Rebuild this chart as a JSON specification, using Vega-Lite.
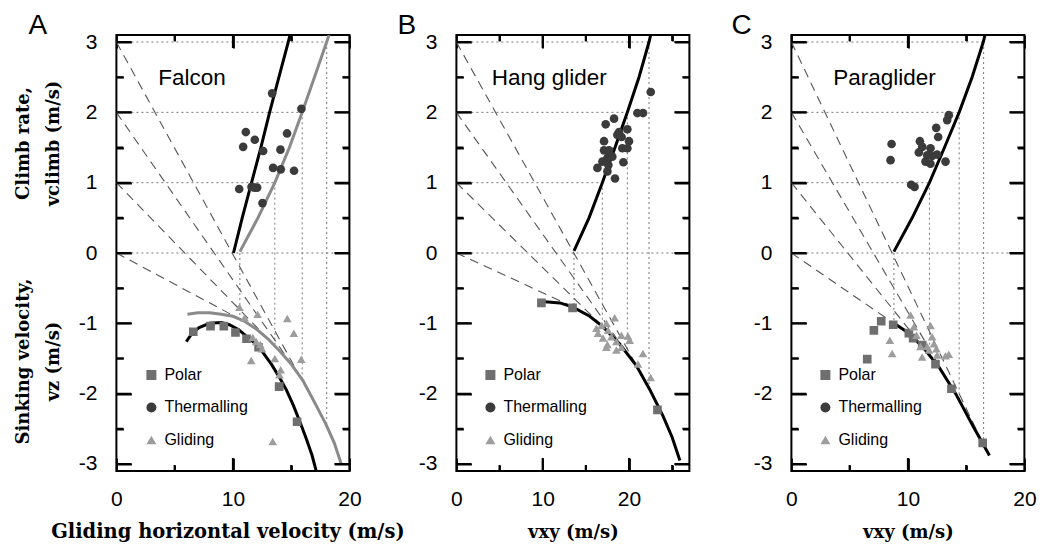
{
  "$schema": "https://vega.github.io/schema/vega-lite/v6.json",
  "padding": {"left": 13.4, "top": 11, "right": 5, "bottom": 5},
  "background": "white",
  "config": {
    "view": {"stroke": "black", "strokeWidth": 2},
    "axis": {"domain": false, "grid": false, "ticks": true, "tickOpacity": 1, "zindex": 1, "tickColor": "black", "tickWidth": 2, "labelFont": "Liberation Sans", "labelFontSize": 21, "labelColor": "black", "labelFlush": false, "labelBound": false, "titleFont": "DejaVu Serif", "titleFontWeight": "bold", "titleFontSize": 18, "titleColor": "black"},
    "title": {"anchor": "start", "frame": "group", "font": "Liberation Sans", "fontSize": 28, "fontWeight": "normal", "color": "black", "offset": 2, "dy": 11, "baseline": "alphabetic"}
  },
  "datasets": {
    "tyAC": [
      {"x": 0, "y": -3, "kind": "ymajor"}, {"x": 0, "y": -2.5, "kind": "yminor"}, {"x": 0, "y": -2, "kind": "ymajor"}, {"x": 0, "y": -1.5, "kind": "yminor"}, {"x": 0, "y": -1, "kind": "ymajor"}, {"x": 0, "y": -0.5, "kind": "yminor"}, {"x": 0, "y": 0, "kind": "ymajor"}, {"x": 0, "y": 0.5, "kind": "yminor"}, {"x": 0, "y": 1, "kind": "ymajor"}, {"x": 0, "y": 1.5, "kind": "yminor"}, {"x": 0, "y": 2, "kind": "ymajor"}, {"x": 0, "y": 2.5, "kind": "yminor"}, {"x": 0, "y": 3, "kind": "ymajor"},
      {"x": 20, "y": -3, "kind": "ymajor"}, {"x": 20, "y": -2.5, "kind": "yminor"}, {"x": 20, "y": -2, "kind": "ymajor"}, {"x": 20, "y": -1.5, "kind": "yminor"}, {"x": 20, "y": -1, "kind": "ymajor"}, {"x": 20, "y": -0.5, "kind": "yminor"}, {"x": 20, "y": 0, "kind": "ymajor"}, {"x": 20, "y": 0.5, "kind": "yminor"}, {"x": 20, "y": 1, "kind": "ymajor"}, {"x": 20, "y": 1.5, "kind": "yminor"}, {"x": 20, "y": 2, "kind": "ymajor"}, {"x": 20, "y": 2.5, "kind": "yminor"}, {"x": 20, "y": 3, "kind": "ymajor"}
    ],
    "tyB": [
      {"x": 0, "y": -3, "kind": "ymajor"}, {"x": 0, "y": -2.5, "kind": "yminor"}, {"x": 0, "y": -2, "kind": "ymajor"}, {"x": 0, "y": -1.5, "kind": "yminor"}, {"x": 0, "y": -1, "kind": "ymajor"}, {"x": 0, "y": -0.5, "kind": "yminor"}, {"x": 0, "y": 0, "kind": "ymajor"}, {"x": 0, "y": 0.5, "kind": "yminor"}, {"x": 0, "y": 1, "kind": "ymajor"}, {"x": 0, "y": 1.5, "kind": "yminor"}, {"x": 0, "y": 2, "kind": "ymajor"}, {"x": 0, "y": 2.5, "kind": "yminor"}, {"x": 0, "y": 3, "kind": "ymajor"},
      {"x": 27, "y": -3, "kind": "ymajor"}, {"x": 27, "y": -2.5, "kind": "yminor"}, {"x": 27, "y": -2, "kind": "ymajor"}, {"x": 27, "y": -1.5, "kind": "yminor"}, {"x": 27, "y": -1, "kind": "ymajor"}, {"x": 27, "y": -0.5, "kind": "yminor"}, {"x": 27, "y": 0, "kind": "ymajor"}, {"x": 27, "y": 0.5, "kind": "yminor"}, {"x": 27, "y": 1, "kind": "ymajor"}, {"x": 27, "y": 1.5, "kind": "yminor"}, {"x": 27, "y": 2, "kind": "ymajor"}, {"x": 27, "y": 2.5, "kind": "yminor"}, {"x": 27, "y": 3, "kind": "ymajor"}
    ],
    "txAC": [
      {"x": 5, "y": -3.1, "kind": "xminor"}, {"x": 10, "y": -3.1, "kind": "xmajor"}, {"x": 15, "y": -3.1, "kind": "xminor"},
      {"x": 5, "y": 3.1, "kind": "xminor"}, {"x": 10, "y": 3.1, "kind": "xmajor"}, {"x": 15, "y": 3.1, "kind": "xminor"}
    ],
    "txB": [
      {"x": 5, "y": -3.1, "kind": "xminor"}, {"x": 10, "y": -3.1, "kind": "xmajor"}, {"x": 15, "y": -3.1, "kind": "xminor"}, {"x": 20, "y": -3.1, "kind": "xmajor"}, {"x": 25, "y": -3.1, "kind": "xminor"},
      {"x": 5, "y": 3.1, "kind": "xminor"}, {"x": 10, "y": 3.1, "kind": "xmajor"}, {"x": 15, "y": 3.1, "kind": "xminor"}, {"x": 20, "y": 3.1, "kind": "xmajor"}, {"x": 25, "y": 3.1, "kind": "xminor"}
    ],
    "hA": [{"x0": 0, "x1": 20, "y": 0}, {"x0": 0, "x1": 13.6, "y": 1}, {"x0": 0, "x1": 15.95, "y": 2}, {"x0": 0, "x1": 18.05, "y": 3}],
    "vA": [{"x": 10.6, "y0": 0, "y1": -0.94}, {"x": 13.6, "y0": 1, "y1": -1.32}, {"x": 15.95, "y0": 2, "y1": -1.8}, {"x": 18.05, "y0": 3, "y1": -2.45}],
    "tA": [{"c": 0, "x": 0, "y": 0}, {"c": 0, "x": 10.6, "y": -0.94}, {"c": 1, "x": 0, "y": 1}, {"c": 1, "x": 13.6, "y": -1.32}, {"c": 2, "x": 0, "y": 2}, {"c": 2, "x": 15.95, "y": -1.8}, {"c": 3, "x": 0, "y": 3}, {"c": 3, "x": 18.05, "y": -2.45}],
    "cA": [
      {"curve": "climb_main", "model": "main", "x": 10.05, "y": 0}, {"curve": "climb_main", "model": "main", "x": 10.8, "y": 0.5}, {"curve": "climb_main", "model": "main", "x": 11.6, "y": 1}, {"curve": "climb_main", "model": "main", "x": 12.4, "y": 1.5}, {"curve": "climb_main", "model": "main", "x": 13.15, "y": 2}, {"curve": "climb_main", "model": "main", "x": 13.95, "y": 2.5}, {"curve": "climb_main", "model": "main", "x": 14.75, "y": 3}, {"curve": "climb_main", "model": "main", "x": 14.9, "y": 3.1},
      {"curve": "polar_main", "model": "main", "x": 6.0, "y": -1.26}, {"curve": "polar_main", "model": "main", "x": 6.5, "y": -1.14}, {"curve": "polar_main", "model": "main", "x": 7.1, "y": -1.06}, {"curve": "polar_main", "model": "main", "x": 8.0, "y": -1.0}, {"curve": "polar_main", "model": "main", "x": 9.0, "y": -0.99}, {"curve": "polar_main", "model": "main", "x": 9.7, "y": -1.02}, {"curve": "polar_main", "model": "main", "x": 10.5, "y": -1.09}, {"curve": "polar_main", "model": "main", "x": 11.2, "y": -1.19}, {"curve": "polar_main", "model": "main", "x": 12.0, "y": -1.3}, {"curve": "polar_main", "model": "main", "x": 12.6, "y": -1.42}, {"curve": "polar_main", "model": "main", "x": 13.3, "y": -1.58}, {"curve": "polar_main", "model": "main", "x": 14.0, "y": -1.77}, {"curve": "polar_main", "model": "main", "x": 14.6, "y": -1.95}, {"curve": "polar_main", "model": "main", "x": 15.2, "y": -2.17}, {"curve": "polar_main", "model": "main", "x": 15.8, "y": -2.42}, {"curve": "polar_main", "model": "main", "x": 16.3, "y": -2.64}, {"curve": "polar_main", "model": "main", "x": 16.8, "y": -2.88}, {"curve": "polar_main", "model": "main", "x": 17.15, "y": -3.1},
      {"curve": "climb_alt", "model": "alt", "x": 10.6, "y": 0.02}, {"curve": "climb_alt", "model": "alt", "x": 12.15, "y": 0.5}, {"curve": "climb_alt", "model": "alt", "x": 13.6, "y": 1.0}, {"curve": "climb_alt", "model": "alt", "x": 14.85, "y": 1.5}, {"curve": "climb_alt", "model": "alt", "x": 15.95, "y": 2.0}, {"curve": "climb_alt", "model": "alt", "x": 17.0, "y": 2.5}, {"curve": "climb_alt", "model": "alt", "x": 18.05, "y": 3.0}, {"curve": "climb_alt", "model": "alt", "x": 18.25, "y": 3.1},
      {"curve": "polar_alt", "model": "alt", "x": 6.1, "y": -0.87}, {"curve": "polar_alt", "model": "alt", "x": 7, "y": -0.85}, {"curve": "polar_alt", "model": "alt", "x": 8, "y": -0.85}, {"curve": "polar_alt", "model": "alt", "x": 9, "y": -0.87}, {"curve": "polar_alt", "model": "alt", "x": 10, "y": -0.9}, {"curve": "polar_alt", "model": "alt", "x": 11, "y": -0.97}, {"curve": "polar_alt", "model": "alt", "x": 12, "y": -1.08}, {"curve": "polar_alt", "model": "alt", "x": 13, "y": -1.22}, {"curve": "polar_alt", "model": "alt", "x": 14, "y": -1.39}, {"curve": "polar_alt", "model": "alt", "x": 15, "y": -1.58}, {"curve": "polar_alt", "model": "alt", "x": 16, "y": -1.81}, {"curve": "polar_alt", "model": "alt", "x": 17, "y": -2.12}, {"curve": "polar_alt", "model": "alt", "x": 18, "y": -2.44}, {"curve": "polar_alt", "model": "alt", "x": 18.7, "y": -2.7}, {"curve": "polar_alt", "model": "alt", "x": 19.3, "y": -3.0}
    ],
    "pA": [
      {"type": "Polar", "x": 6.6, "y": -1.12}, {"type": "Polar", "x": 8.08, "y": -1.04}, {"type": "Polar", "x": 9.22, "y": -1.04}, {"type": "Polar", "x": 10.22, "y": -1.13}, {"type": "Polar", "x": 11.17, "y": -1.22}, {"type": "Polar", "x": 12.2, "y": -1.34}, {"type": "Polar", "x": 13.97, "y": -1.9}, {"type": "Polar", "x": 15.51, "y": -2.4},
      {"type": "Thermalling", "x": 13.37, "y": 2.27}, {"type": "Thermalling", "x": 15.88, "y": 2.05}, {"type": "Thermalling", "x": 11.11, "y": 1.72}, {"type": "Thermalling", "x": 11.88, "y": 1.61}, {"type": "Thermalling", "x": 10.88, "y": 1.51}, {"type": "Thermalling", "x": 14.65, "y": 1.7}, {"type": "Thermalling", "x": 12.6, "y": 1.45}, {"type": "Thermalling", "x": 14.08, "y": 1.47}, {"type": "Thermalling", "x": 13.45, "y": 1.21}, {"type": "Thermalling", "x": 14.11, "y": 1.19}, {"type": "Thermalling", "x": 15.25, "y": 1.17}, {"type": "Thermalling", "x": 10.54, "y": 0.91}, {"type": "Thermalling", "x": 11.6, "y": 0.94}, {"type": "Thermalling", "x": 12.08, "y": 0.93}, {"type": "Thermalling", "x": 12.54, "y": 0.71}, {"type": "Thermalling", "x": 11.85, "y": 0.93},
      {"type": "Gliding", "x": 10.57, "y": -0.77}, {"type": "Gliding", "x": 11.0, "y": -0.92}, {"type": "Gliding", "x": 12.12, "y": -0.87}, {"type": "Gliding", "x": 14.67, "y": -0.93}, {"type": "Gliding", "x": 15.23, "y": -1.14}, {"type": "Gliding", "x": 11.57, "y": -1.53}, {"type": "Gliding", "x": 15.87, "y": -1.51}, {"type": "Gliding", "x": 12.0, "y": -1.26}, {"type": "Gliding", "x": 12.5, "y": -1.36}, {"type": "Gliding", "x": 13.6, "y": -1.5}, {"type": "Gliding", "x": 14.1, "y": -1.66}, {"type": "Gliding", "x": 14.0, "y": -1.73}, {"type": "Gliding", "x": 13.42, "y": -2.68}, {"type": "Gliding", "x": 11.7, "y": -1.2}, {"type": "Gliding", "x": 12.35, "y": -1.3}
    ],
    "hB": [{"x0": 0, "x1": 27, "y": 0}, {"x0": 0, "x1": 16.91, "y": 1}, {"x0": 0, "x1": 19.81, "y": 2}, {"x0": 0, "x1": 22.32, "y": 3}],
    "vB": [{"x": 13.63, "y0": 0, "y1": -0.77}, {"x": 16.91, "y0": 1, "y1": -1.04}, {"x": 19.81, "y0": 2, "y1": -1.43}, {"x": 22.32, "y0": 3, "y1": -1.92}],
    "tB": [{"c": 0, "x": 0, "y": 0}, {"c": 0, "x": 13.63, "y": -0.77}, {"c": 1, "x": 0, "y": 1}, {"c": 1, "x": 16.91, "y": -1.04}, {"c": 2, "x": 0, "y": 2}, {"c": 2, "x": 19.81, "y": -1.43}, {"c": 3, "x": 0, "y": 3}, {"c": 3, "x": 22.32, "y": -1.92}],
    "cB": [
      {"curve": "climb_main", "model": "main", "x": 13.63, "y": 0.03}, {"curve": "climb_main", "model": "main", "x": 15.37, "y": 0.5}, {"curve": "climb_main", "model": "main", "x": 16.91, "y": 1.0}, {"curve": "climb_main", "model": "main", "x": 18.38, "y": 1.5}, {"curve": "climb_main", "model": "main", "x": 19.81, "y": 2.0}, {"curve": "climb_main", "model": "main", "x": 21.16, "y": 2.5}, {"curve": "climb_main", "model": "main", "x": 22.32, "y": 3.0}, {"curve": "climb_main", "model": "main", "x": 22.51, "y": 3.1},
      {"curve": "polar_main", "model": "main", "x": 9.9, "y": -0.69}, {"curve": "polar_main", "model": "main", "x": 12.0, "y": -0.71}, {"curve": "polar_main", "model": "main", "x": 13.5, "y": -0.77}, {"curve": "polar_main", "model": "main", "x": 15.45, "y": -0.9}, {"curve": "polar_main", "model": "main", "x": 17.0, "y": -1.05}, {"curve": "polar_main", "model": "main", "x": 18.9, "y": -1.29}, {"curve": "polar_main", "model": "main", "x": 20.85, "y": -1.6}, {"curve": "polar_main", "model": "main", "x": 22.4, "y": -1.94}, {"curve": "polar_main", "model": "main", "x": 23.95, "y": -2.32}, {"curve": "polar_main", "model": "main", "x": 25.0, "y": -2.62}, {"curve": "polar_main", "model": "main", "x": 25.9, "y": -2.95}
    ],
    "pB": [
      {"type": "Polar", "x": 9.85, "y": -0.71}, {"type": "Polar", "x": 13.46, "y": -0.78}, {"type": "Polar", "x": 23.3, "y": -2.23},
      {"type": "Thermalling", "x": 22.52, "y": 2.29}, {"type": "Thermalling", "x": 20.97, "y": 1.99}, {"type": "Thermalling", "x": 21.63, "y": 1.99}, {"type": "Thermalling", "x": 18.27, "y": 1.91}, {"type": "Thermalling", "x": 17.3, "y": 1.83}, {"type": "Thermalling", "x": 18.85, "y": 1.72}, {"type": "Thermalling", "x": 19.81, "y": 1.76}, {"type": "Thermalling", "x": 19.15, "y": 1.65}, {"type": "Thermalling", "x": 17.11, "y": 1.59}, {"type": "Thermalling", "x": 20.0, "y": 1.59}, {"type": "Thermalling", "x": 17.69, "y": 1.46}, {"type": "Thermalling", "x": 17.11, "y": 1.46}, {"type": "Thermalling", "x": 19.81, "y": 1.49}, {"type": "Thermalling", "x": 19.23, "y": 1.49}, {"type": "Thermalling", "x": 17.5, "y": 1.35}, {"type": "Thermalling", "x": 18.07, "y": 1.37}, {"type": "Thermalling", "x": 16.92, "y": 1.3}, {"type": "Thermalling", "x": 16.34, "y": 1.21}, {"type": "Thermalling", "x": 17.61, "y": 1.25}, {"type": "Thermalling", "x": 19.35, "y": 1.29}, {"type": "Thermalling", "x": 17.5, "y": 1.16}, {"type": "Thermalling", "x": 18.38, "y": 1.06}, {"type": "Thermalling", "x": 18.65, "y": 1.68},
      {"type": "Gliding", "x": 18.34, "y": -0.92}, {"type": "Gliding", "x": 16.22, "y": -1.07}, {"type": "Gliding", "x": 16.8, "y": -1.03}, {"type": "Gliding", "x": 17.38, "y": -1.0}, {"type": "Gliding", "x": 17.57, "y": -1.1}, {"type": "Gliding", "x": 16.41, "y": -1.14}, {"type": "Gliding", "x": 16.99, "y": -1.21}, {"type": "Gliding", "x": 17.96, "y": -1.19}, {"type": "Gliding", "x": 18.54, "y": -1.26}, {"type": "Gliding", "x": 19.12, "y": -1.17}, {"type": "Gliding", "x": 19.88, "y": -1.18}, {"type": "Gliding", "x": 20.08, "y": -1.24}, {"type": "Gliding", "x": 17.38, "y": -1.34}, {"type": "Gliding", "x": 18.54, "y": -1.38}, {"type": "Gliding", "x": 19.12, "y": -1.34}, {"type": "Gliding", "x": 21.62, "y": -1.43}, {"type": "Gliding", "x": 21.04, "y": -1.58}, {"type": "Gliding", "x": 22.51, "y": -1.77}, {"type": "Gliding", "x": 17.5, "y": -1.3}
    ],
    "hC": [{"x0": 0, "x1": 20, "y": 0}, {"x0": 0, "x1": 11.85, "y": 1}, {"x0": 0, "x1": 14.4, "y": 2}, {"x0": 0, "x1": 16.5, "y": 3}],
    "vC": [{"x": 8.8, "y0": 0, "y1": -1.0}, {"x": 11.85, "y0": 1, "y1": -1.45}, {"x": 14.4, "y0": 2, "y1": -2.09}, {"x": 16.5, "y0": 3, "y1": -2.73}],
    "tC": [{"c": 0, "x": 0, "y": 0}, {"c": 0, "x": 8.8, "y": -1.0}, {"c": 1, "x": 0, "y": 1}, {"c": 1, "x": 11.85, "y": -1.45}, {"c": 2, "x": 0, "y": 2}, {"c": 2, "x": 14.4, "y": -2.09}, {"c": 3, "x": 0, "y": 3}, {"c": 3, "x": 16.5, "y": -2.73}],
    "cC": [
      {"curve": "climb_main", "model": "main", "x": 8.8, "y": 0.02}, {"curve": "climb_main", "model": "main", "x": 10.37, "y": 0.5}, {"curve": "climb_main", "model": "main", "x": 11.85, "y": 1.0}, {"curve": "climb_main", "model": "main", "x": 13.14, "y": 1.5}, {"curve": "climb_main", "model": "main", "x": 14.4, "y": 2.0}, {"curve": "climb_main", "model": "main", "x": 15.51, "y": 2.5}, {"curve": "climb_main", "model": "main", "x": 16.47, "y": 3.0}, {"curve": "climb_main", "model": "main", "x": 16.62, "y": 3.1},
      {"curve": "polar_main", "model": "main", "x": 8.8, "y": -1.0}, {"curve": "polar_main", "model": "main", "x": 9.9, "y": -1.12}, {"curve": "polar_main", "model": "main", "x": 11.3, "y": -1.34}, {"curve": "polar_main", "model": "main", "x": 12.7, "y": -1.63}, {"curve": "polar_main", "model": "main", "x": 14.1, "y": -2.0}, {"curve": "polar_main", "model": "main", "x": 15.55, "y": -2.45}, {"curve": "polar_main", "model": "main", "x": 17.0, "y": -2.88}
    ],
    "pC": [
      {"type": "Polar", "x": 7.08, "y": -1.1}, {"type": "Polar", "x": 7.71, "y": -0.97}, {"type": "Polar", "x": 8.74, "y": -1.02}, {"type": "Polar", "x": 10.08, "y": -1.14}, {"type": "Polar", "x": 10.45, "y": -1.21}, {"type": "Polar", "x": 11.23, "y": -1.31}, {"type": "Polar", "x": 12.37, "y": -1.58}, {"type": "Polar", "x": 13.74, "y": -1.93}, {"type": "Polar", "x": 6.51, "y": -1.51}, {"type": "Polar", "x": 16.42, "y": -2.7},
      {"type": "Thermalling", "x": 13.51, "y": 1.96}, {"type": "Thermalling", "x": 13.37, "y": 1.89}, {"type": "Thermalling", "x": 12.43, "y": 1.78}, {"type": "Thermalling", "x": 12.6, "y": 1.65}, {"type": "Thermalling", "x": 8.6, "y": 1.55}, {"type": "Thermalling", "x": 11.03, "y": 1.59}, {"type": "Thermalling", "x": 10.94, "y": 1.43}, {"type": "Thermalling", "x": 11.23, "y": 1.51}, {"type": "Thermalling", "x": 11.94, "y": 1.49}, {"type": "Thermalling", "x": 12.51, "y": 1.4}, {"type": "Thermalling", "x": 12.08, "y": 1.38}, {"type": "Thermalling", "x": 8.51, "y": 1.32}, {"type": "Thermalling", "x": 11.51, "y": 1.3}, {"type": "Thermalling", "x": 11.94, "y": 1.27}, {"type": "Thermalling", "x": 13.23, "y": 1.3}, {"type": "Thermalling", "x": 10.28, "y": 0.97}, {"type": "Thermalling", "x": 10.57, "y": 0.94}, {"type": "Thermalling", "x": 11.66, "y": 1.39},
      {"type": "Gliding", "x": 10.23, "y": -0.88}, {"type": "Gliding", "x": 10.51, "y": -1.05}, {"type": "Gliding", "x": 11.94, "y": -1.03}, {"type": "Gliding", "x": 8.45, "y": -1.24}, {"type": "Gliding", "x": 8.65, "y": -1.43}, {"type": "Gliding", "x": 10.74, "y": -1.17}, {"type": "Gliding", "x": 12.08, "y": -1.19}, {"type": "Gliding", "x": 11.08, "y": -1.33}, {"type": "Gliding", "x": 11.22, "y": -1.48}, {"type": "Gliding", "x": 11.8, "y": -1.38}, {"type": "Gliding", "x": 12.45, "y": -1.36}, {"type": "Gliding", "x": 12.51, "y": -1.45}, {"type": "Gliding", "x": 13.23, "y": -1.46}, {"type": "Gliding", "x": 13.51, "y": -1.44}, {"type": "Gliding", "x": 11.66, "y": -1.33}, {"type": "Gliding", "x": 12.23, "y": -1.29}
    ]
  },
  "bounds": "flush",
  "spacing": 107,
  "resolve": {"legend": {"color": "independent", "shape": "independent"}},
  "hconcat": [
    {
      "width": 233, "height": 436,
      "title": {"text": "A", "dx": -88},
      "resolve": {"axis": {"x": "independent", "y": "independent"}},
      "layer": [
        {"data": {"name": "hA"}, "mark": {"type": "rule", "strokeDash": [2, 3], "color": "#777777", "strokeWidth": 1},
         "encoding": {
           "x": {"field": "x0", "type": "quantitative", "scale": {"domain": [0, 20], "nice": false, "zero": false}, "axis": {"orient": "bottom", "values": [0, 10, 20], "offset": -13, "tickSize": 13, "labelPadding": 17.7, "title": "Gliding horizontal velocity (m/s)", "titleFontSize": 19.5, "titleX": 111, "titleY": 80, "titleBaseline": "alphabetic"}},
           "x2": {"field": "x1"},
           "y": {"field": "y", "type": "quantitative", "scale": {"domain": [-3.1, 3.1], "nice": false, "zero": false}, "axis": {"orient": "left", "values": [-3, -2, -1, 0, 1, 2, 3], "offset": -15, "tickSize": 15, "labelPadding": 19.5, "labelAlign": "right", "labelExpr": "replace(datum.label, '\u2212', '-')", "title": ["Climb rate,", "vclimb (m/s)"], "titleX": -107.7, "titleY": 108, "titleBaseline": "middle", "titleAlign": "center", "titleAngle": -90, "titleLineHeight": 30}}
         }},
        {"data": {"name": "vA"}, "mark": {"type": "rule", "strokeDash": [2, 3], "color": "#777777", "strokeWidth": 1},
         "encoding": {
           "x": {"field": "x", "type": "quantitative", "scale": {"domain": [0, 20], "nice": false, "zero": false}, "axis": {"orient": "bottom", "values": [5, 15], "offset": -6, "tickSize": 6, "labels": false, "title": null}},
           "y": {"field": "y0", "type": "quantitative", "scale": {"domain": [-3.1, 3.1], "nice": false, "zero": false}, "axis": {"orient": "left", "values": [-2.5, -1.5, -0.5, 0.5, 1.5, 2.5], "offset": -7, "tickSize": 7, "labels": false, "title": ["Sinking velocity,", "vz (m/s)"], "titleX": -99.7, "titleY": 326, "titleBaseline": "middle", "titleAlign": "center", "titleAngle": -90, "titleLineHeight": 30}},
           "y2": {"field": "y1"}
         }},
        {"data": {"name": "tA"}, "mark": {"type": "line", "strokeDash": [9, 6], "color": "#555555", "strokeWidth": 1.1, "clip": true},
         "encoding": {
           "x": {"field": "x", "type": "quantitative", "scale": {"domain": [0, 20], "nice": false, "zero": false}, "axis": {"orient": "top", "values": [0, 10, 20], "offset": -13, "tickSize": 13, "labels": false, "title": null}},
           "y": {"field": "y", "type": "quantitative", "scale": {"domain": [-3.1, 3.1], "nice": false, "zero": false}, "axis": {"orient": "right", "values": [-3, -2, -1, 0, 1, 2, 3], "offset": -15, "tickSize": 15, "labels": false, "title": null}},
           "detail": {"field": "c", "type": "nominal"}
         }},
        {"data": {"name": "cA"}, "mark": {"type": "line", "strokeWidth": 3, "clip": true},
         "encoding": {
           "x": {"field": "x", "type": "quantitative", "scale": {"domain": [0, 20], "nice": false, "zero": false}, "axis": {"orient": "top", "values": [5, 15], "offset": -6, "tickSize": 6, "labels": false, "title": null}},
           "y": {"field": "y", "type": "quantitative", "scale": {"domain": [-3.1, 3.1], "nice": false, "zero": false}, "axis": {"orient": "right", "values": [-2.5, -1.5, -0.5, 0.5, 1.5, 2.5], "offset": -7, "tickSize": 7, "labels": false, "title": null}},
           "detail": {"field": "curve", "type": "nominal"},
           "stroke": {"field": "model", "type": "nominal", "scale": {"domain": ["main", "alt"], "range": ["#000000", "#8a8a8a"]}, "legend": null}
         }},
        {"data": {"name": "tyAC"}, "transform": [{"filter": "datum.kind === 'ymajor'"}], "mark": {"type": "tick", "orient": "horizontal", "size": 30, "thickness": 2, "color": "black", "opacity": 1, "clip": true},
         "encoding": {
           "x": {"field": "x", "type": "quantitative", "scale": {"domain": [0, 20], "nice": false, "zero": false}, "axis": null},
           "y": {"field": "y", "type": "quantitative", "scale": {"domain": [-3.1, 3.1], "nice": false, "zero": false}, "axis": null}
         }},
        {"data": {"name": "tyAC"}, "transform": [{"filter": "datum.kind === 'yminor'"}], "mark": {"type": "tick", "orient": "horizontal", "size": 14, "thickness": 2, "color": "black", "opacity": 1, "clip": true},
         "encoding": {
           "x": {"field": "x", "type": "quantitative", "scale": {"domain": [0, 20], "nice": false, "zero": false}, "axis": null},
           "y": {"field": "y", "type": "quantitative", "scale": {"domain": [-3.1, 3.1], "nice": false, "zero": false}, "axis": null}
         }},
        {"data": {"name": "txAC"}, "transform": [{"filter": "datum.kind === 'xmajor'"}], "mark": {"type": "tick", "orient": "vertical", "size": 26, "thickness": 2, "color": "black", "opacity": 1, "clip": true},
         "encoding": {
           "x": {"field": "x", "type": "quantitative", "scale": {"domain": [0, 20], "nice": false, "zero": false}, "axis": null},
           "y": {"field": "y", "type": "quantitative", "scale": {"domain": [-3.1, 3.1], "nice": false, "zero": false}, "axis": null}
         }},
        {"data": {"name": "txAC"}, "transform": [{"filter": "datum.kind === 'xminor'"}], "mark": {"type": "tick", "orient": "vertical", "size": 12, "thickness": 2, "color": "black", "opacity": 1, "clip": true},
         "encoding": {
           "x": {"field": "x", "type": "quantitative", "scale": {"domain": [0, 20], "nice": false, "zero": false}, "axis": null},
           "y": {"field": "y", "type": "quantitative", "scale": {"domain": [-3.1, 3.1], "nice": false, "zero": false}, "axis": null}
         }},
        {"data": {"name": "pA"}, "mark": {"type": "point", "filled": true, "size": 75, "opacity": 1, "clip": true},
         "encoding": {
           "x": {"field": "x", "type": "quantitative", "scale": {"domain": [0, 20], "nice": false, "zero": false}, "axis": null},
           "y": {"field": "y", "type": "quantitative", "scale": {"domain": [-3.1, 3.1], "nice": false, "zero": false}, "axis": null},
           "color": {"field": "type", "type": "nominal", "scale": {"domain": ["Polar", "Thermalling", "Gliding"], "range": ["#6f6f6f", "#3b3b3b", "#9d9d9d"]}, "legend": {"orient": "none", "legendX": 27, "legendY": 332, "title": null, "labelFont": "Liberation Sans", "labelFontSize": 16, "labelColor": "black", "symbolSize": 100, "rowPadding": 16.5, "labelOffset": 5, "padding": 0}},
           "shape": {"field": "type", "type": "nominal", "scale": {"domain": ["Polar", "Thermalling", "Gliding"], "range": ["square", "circle", "triangle-up"]}, "legend": {"orient": "none", "legendX": 27, "legendY": 332, "title": null, "labelFont": "Liberation Sans", "labelFontSize": 16, "labelColor": "black", "symbolSize": 100, "rowPadding": 16.5, "labelOffset": 5, "padding": 0}}
         }},
        {"data": {"values": [{"label": "Falcon", "x": 3.6, "y": 2.39}]}, "mark": {"type": "text", "align": "left", "baseline": "alphabetic", "fontSize": 22.5, "font": "Liberation Sans", "color": "black"},
         "encoding": {
           "x": {"field": "x", "type": "quantitative", "scale": {"domain": [0, 20], "nice": false, "zero": false}, "axis": null},
           "y": {"field": "y", "type": "quantitative", "scale": {"domain": [-3.1, 3.1], "nice": false, "zero": false}, "axis": null},
           "text": {"field": "label"}
         }}
      ]
    },
    {
      "bounds": "flush",
      "spacing": 102,
      "resolve": {"legend": {"color": "independent", "shape": "independent"}},
      "hconcat": [
        {
          "width": 233, "height": 436,
          "title": {"text": "B", "dx": -59},
          "resolve": {"axis": {"x": "independent", "y": "independent"}},
          "layer": [
            {"data": {"name": "hB"}, "mark": {"type": "rule", "strokeDash": [2, 3], "color": "#777777", "strokeWidth": 1},
             "encoding": {
               "x": {"field": "x0", "type": "quantitative", "scale": {"domain": [0, 27], "nice": false, "zero": false}, "axis": {"orient": "bottom", "values": [0, 10, 20], "offset": -13, "tickSize": 13, "labelPadding": 17.7, "title": "vxy (m/s)", "titleY": 80, "titleBaseline": "alphabetic"}},
               "x2": {"field": "x1"},
               "y": {"field": "y", "type": "quantitative", "scale": {"domain": [-3.1, 3.1], "nice": false, "zero": false}, "axis": {"orient": "left", "values": [-3, -2, -1, 0, 1, 2, 3], "offset": -15, "tickSize": 15, "labelPadding": 19.5, "labelAlign": "right", "labelExpr": "replace(datum.label, '\u2212', '-')", "title": null}}
             }},
            {"data": {"name": "vB"}, "mark": {"type": "rule", "strokeDash": [2, 3], "color": "#777777", "strokeWidth": 1},
             "encoding": {
               "x": {"field": "x", "type": "quantitative", "scale": {"domain": [0, 27], "nice": false, "zero": false}, "axis": {"orient": "bottom", "values": [5, 15, 25], "offset": -6, "tickSize": 6, "labels": false, "title": null}},
               "y": {"field": "y0", "type": "quantitative", "scale": {"domain": [-3.1, 3.1], "nice": false, "zero": false}, "axis": {"orient": "left", "values": [-2.5, -1.5, -0.5, 0.5, 1.5, 2.5], "offset": -7, "tickSize": 7, "labels": false, "title": null}},
               "y2": {"field": "y1"}
             }},
            {"data": {"name": "tB"}, "mark": {"type": "line", "strokeDash": [9, 6], "color": "#555555", "strokeWidth": 1.1, "clip": true},
             "encoding": {
               "x": {"field": "x", "type": "quantitative", "scale": {"domain": [0, 27], "nice": false, "zero": false}, "axis": {"orient": "top", "values": [0, 10, 20], "offset": -13, "tickSize": 13, "labels": false, "title": null}},
               "y": {"field": "y", "type": "quantitative", "scale": {"domain": [-3.1, 3.1], "nice": false, "zero": false}, "axis": {"orient": "right", "values": [-3, -2, -1, 0, 1, 2, 3], "offset": -15, "tickSize": 15, "labels": false, "title": null}},
               "detail": {"field": "c", "type": "nominal"}
             }},
            {"data": {"name": "cB"}, "mark": {"type": "line", "strokeWidth": 3, "clip": true},
             "encoding": {
               "x": {"field": "x", "type": "quantitative", "scale": {"domain": [0, 27], "nice": false, "zero": false}, "axis": {"orient": "top", "values": [5, 15, 25], "offset": -6, "tickSize": 6, "labels": false, "title": null}},
               "y": {"field": "y", "type": "quantitative", "scale": {"domain": [-3.1, 3.1], "nice": false, "zero": false}, "axis": {"orient": "right", "values": [-2.5, -1.5, -0.5, 0.5, 1.5, 2.5], "offset": -7, "tickSize": 7, "labels": false, "title": null}},
               "detail": {"field": "curve", "type": "nominal"},
               "stroke": {"field": "model", "type": "nominal", "scale": {"domain": ["main", "alt"], "range": ["#000000", "#8a8a8a"]}, "legend": null}
             }},
            {"data": {"name": "tyB"}, "transform": [{"filter": "datum.kind === 'ymajor'"}], "mark": {"type": "tick", "orient": "horizontal", "size": 30, "thickness": 2, "color": "black", "opacity": 1, "clip": true},
             "encoding": {
               "x": {"field": "x", "type": "quantitative", "scale": {"domain": [0, 27], "nice": false, "zero": false}, "axis": null},
               "y": {"field": "y", "type": "quantitative", "scale": {"domain": [-3.1, 3.1], "nice": false, "zero": false}, "axis": null}
             }},
            {"data": {"name": "tyB"}, "transform": [{"filter": "datum.kind === 'yminor'"}], "mark": {"type": "tick", "orient": "horizontal", "size": 14, "thickness": 2, "color": "black", "opacity": 1, "clip": true},
             "encoding": {
               "x": {"field": "x", "type": "quantitative", "scale": {"domain": [0, 27], "nice": false, "zero": false}, "axis": null},
               "y": {"field": "y", "type": "quantitative", "scale": {"domain": [-3.1, 3.1], "nice": false, "zero": false}, "axis": null}
             }},
            {"data": {"name": "txB"}, "transform": [{"filter": "datum.kind === 'xmajor'"}], "mark": {"type": "tick", "orient": "vertical", "size": 26, "thickness": 2, "color": "black", "opacity": 1, "clip": true},
             "encoding": {
               "x": {"field": "x", "type": "quantitative", "scale": {"domain": [0, 27], "nice": false, "zero": false}, "axis": null},
               "y": {"field": "y", "type": "quantitative", "scale": {"domain": [-3.1, 3.1], "nice": false, "zero": false}, "axis": null}
             }},
            {"data": {"name": "txB"}, "transform": [{"filter": "datum.kind === 'xminor'"}], "mark": {"type": "tick", "orient": "vertical", "size": 12, "thickness": 2, "color": "black", "opacity": 1, "clip": true},
             "encoding": {
               "x": {"field": "x", "type": "quantitative", "scale": {"domain": [0, 27], "nice": false, "zero": false}, "axis": null},
               "y": {"field": "y", "type": "quantitative", "scale": {"domain": [-3.1, 3.1], "nice": false, "zero": false}, "axis": null}
             }},
            {"data": {"name": "pB"}, "mark": {"type": "point", "filled": true, "size": 75, "opacity": 1, "clip": true},
             "encoding": {
               "x": {"field": "x", "type": "quantitative", "scale": {"domain": [0, 27], "nice": false, "zero": false}, "axis": null},
               "y": {"field": "y", "type": "quantitative", "scale": {"domain": [-3.1, 3.1], "nice": false, "zero": false}, "axis": null},
               "color": {"field": "type", "type": "nominal", "scale": {"domain": ["Polar", "Thermalling", "Gliding"], "range": ["#6f6f6f", "#3b3b3b", "#9d9d9d"]}, "legend": {"orient": "none", "legendX": 26, "legendY": 332, "title": null, "labelFont": "Liberation Sans", "labelFontSize": 16, "labelColor": "black", "symbolSize": 100, "rowPadding": 16.5, "labelOffset": 5, "padding": 0}},
               "shape": {"field": "type", "type": "nominal", "scale": {"domain": ["Polar", "Thermalling", "Gliding"], "range": ["square", "circle", "triangle-up"]}, "legend": {"orient": "none", "legendX": 26, "legendY": 332, "title": null, "labelFont": "Liberation Sans", "labelFontSize": 16, "labelColor": "black", "symbolSize": 100, "rowPadding": 16.5, "labelOffset": 5, "padding": 0}}
             }},
            {"data": {"values": [{"label": "Hang glider", "x": 4.1, "y": 2.39}]}, "mark": {"type": "text", "align": "left", "baseline": "alphabetic", "fontSize": 22.5, "font": "Liberation Sans", "color": "black"},
             "encoding": {
               "x": {"field": "x", "type": "quantitative", "scale": {"domain": [0, 27], "nice": false, "zero": false}, "axis": null},
               "y": {"field": "y", "type": "quantitative", "scale": {"domain": [-3.1, 3.1], "nice": false, "zero": false}, "axis": null},
               "text": {"field": "label"}
             }}
          ]
        },
        {
          "width": 233, "height": 436,
          "title": {"text": "C", "dx": -60},
          "resolve": {"axis": {"x": "independent", "y": "independent"}},
          "layer": [
            {"data": {"name": "hC"}, "mark": {"type": "rule", "strokeDash": [2, 3], "color": "#777777", "strokeWidth": 1},
             "encoding": {
               "x": {"field": "x0", "type": "quantitative", "scale": {"domain": [0, 20], "nice": false, "zero": false}, "axis": {"orient": "bottom", "values": [0, 10, 20], "offset": -13, "tickSize": 13, "labelPadding": 17.7, "title": "vxy (m/s)", "titleY": 80, "titleBaseline": "alphabetic"}},
               "x2": {"field": "x1"},
               "y": {"field": "y", "type": "quantitative", "scale": {"domain": [-3.1, 3.1], "nice": false, "zero": false}, "axis": {"orient": "left", "values": [-3, -2, -1, 0, 1, 2, 3], "offset": -15, "tickSize": 15, "labelPadding": 19.5, "labelAlign": "right", "labelExpr": "replace(datum.label, '\u2212', '-')", "title": null}}
             }},
            {"data": {"name": "vC"}, "mark": {"type": "rule", "strokeDash": [2, 3], "color": "#777777", "strokeWidth": 1},
             "encoding": {
               "x": {"field": "x", "type": "quantitative", "scale": {"domain": [0, 20], "nice": false, "zero": false}, "axis": {"orient": "bottom", "values": [5, 15], "offset": -6, "tickSize": 6, "labels": false, "title": null}},
               "y": {"field": "y0", "type": "quantitative", "scale": {"domain": [-3.1, 3.1], "nice": false, "zero": false}, "axis": {"orient": "left", "values": [-2.5, -1.5, -0.5, 0.5, 1.5, 2.5], "offset": -7, "tickSize": 7, "labels": false, "title": null}},
               "y2": {"field": "y1"}
             }},
            {"data": {"name": "tC"}, "mark": {"type": "line", "strokeDash": [9, 6], "color": "#555555", "strokeWidth": 1.1, "clip": true},
             "encoding": {
               "x": {"field": "x", "type": "quantitative", "scale": {"domain": [0, 20], "nice": false, "zero": false}, "axis": {"orient": "top", "values": [0, 10, 20], "offset": -13, "tickSize": 13, "labels": false, "title": null}},
               "y": {"field": "y", "type": "quantitative", "scale": {"domain": [-3.1, 3.1], "nice": false, "zero": false}, "axis": {"orient": "right", "values": [-3, -2, -1, 0, 1, 2, 3], "offset": -15, "tickSize": 15, "labels": false, "title": null}},
               "detail": {"field": "c", "type": "nominal"}
             }},
            {"data": {"name": "cC"}, "mark": {"type": "line", "strokeWidth": 3, "clip": true},
             "encoding": {
               "x": {"field": "x", "type": "quantitative", "scale": {"domain": [0, 20], "nice": false, "zero": false}, "axis": {"orient": "top", "values": [5, 15], "offset": -6, "tickSize": 6, "labels": false, "title": null}},
               "y": {"field": "y", "type": "quantitative", "scale": {"domain": [-3.1, 3.1], "nice": false, "zero": false}, "axis": {"orient": "right", "values": [-2.5, -1.5, -0.5, 0.5, 1.5, 2.5], "offset": -7, "tickSize": 7, "labels": false, "title": null}},
               "detail": {"field": "curve", "type": "nominal"},
               "stroke": {"field": "model", "type": "nominal", "scale": {"domain": ["main", "alt"], "range": ["#000000", "#8a8a8a"]}, "legend": null}
             }},
            {"data": {"name": "tyAC"}, "transform": [{"filter": "datum.kind === 'ymajor'"}], "mark": {"type": "tick", "orient": "horizontal", "size": 30, "thickness": 2, "color": "black", "opacity": 1, "clip": true},
             "encoding": {
               "x": {"field": "x", "type": "quantitative", "scale": {"domain": [0, 20], "nice": false, "zero": false}, "axis": null},
               "y": {"field": "y", "type": "quantitative", "scale": {"domain": [-3.1, 3.1], "nice": false, "zero": false}, "axis": null}
             }},
            {"data": {"name": "tyAC"}, "transform": [{"filter": "datum.kind === 'yminor'"}], "mark": {"type": "tick", "orient": "horizontal", "size": 14, "thickness": 2, "color": "black", "opacity": 1, "clip": true},
             "encoding": {
               "x": {"field": "x", "type": "quantitative", "scale": {"domain": [0, 20], "nice": false, "zero": false}, "axis": null},
               "y": {"field": "y", "type": "quantitative", "scale": {"domain": [-3.1, 3.1], "nice": false, "zero": false}, "axis": null}
             }},
            {"data": {"name": "txAC"}, "transform": [{"filter": "datum.kind === 'xmajor'"}], "mark": {"type": "tick", "orient": "vertical", "size": 26, "thickness": 2, "color": "black", "opacity": 1, "clip": true},
             "encoding": {
               "x": {"field": "x", "type": "quantitative", "scale": {"domain": [0, 20], "nice": false, "zero": false}, "axis": null},
               "y": {"field": "y", "type": "quantitative", "scale": {"domain": [-3.1, 3.1], "nice": false, "zero": false}, "axis": null}
             }},
            {"data": {"name": "txAC"}, "transform": [{"filter": "datum.kind === 'xminor'"}], "mark": {"type": "tick", "orient": "vertical", "size": 12, "thickness": 2, "color": "black", "opacity": 1, "clip": true},
             "encoding": {
               "x": {"field": "x", "type": "quantitative", "scale": {"domain": [0, 20], "nice": false, "zero": false}, "axis": null},
               "y": {"field": "y", "type": "quantitative", "scale": {"domain": [-3.1, 3.1], "nice": false, "zero": false}, "axis": null}
             }},
            {"data": {"name": "pC"}, "mark": {"type": "point", "filled": true, "size": 75, "opacity": 1, "clip": true},
             "encoding": {
               "x": {"field": "x", "type": "quantitative", "scale": {"domain": [0, 20], "nice": false, "zero": false}, "axis": null},
               "y": {"field": "y", "type": "quantitative", "scale": {"domain": [-3.1, 3.1], "nice": false, "zero": false}, "axis": null},
               "color": {"field": "type", "type": "nominal", "scale": {"domain": ["Polar", "Thermalling", "Gliding"], "range": ["#6f6f6f", "#3b3b3b", "#9d9d9d"]}, "legend": {"orient": "none", "legendX": 26, "legendY": 332, "title": null, "labelFont": "Liberation Sans", "labelFontSize": 16, "labelColor": "black", "symbolSize": 100, "rowPadding": 16.5, "labelOffset": 5, "padding": 0}},
               "shape": {"field": "type", "type": "nominal", "scale": {"domain": ["Polar", "Thermalling", "Gliding"], "range": ["square", "circle", "triangle-up"]}, "legend": {"orient": "none", "legendX": 26, "legendY": 332, "title": null, "labelFont": "Liberation Sans", "labelFontSize": 16, "labelColor": "black", "symbolSize": 100, "rowPadding": 16.5, "labelOffset": 5, "padding": 0}}
             }},
            {"data": {"values": [{"label": "Paraglider", "x": 3.6, "y": 2.39}]}, "mark": {"type": "text", "align": "left", "baseline": "alphabetic", "fontSize": 22.5, "font": "Liberation Sans", "color": "black"},
             "encoding": {
               "x": {"field": "x", "type": "quantitative", "scale": {"domain": [0, 20], "nice": false, "zero": false}, "axis": null},
               "y": {"field": "y", "type": "quantitative", "scale": {"domain": [-3.1, 3.1], "nice": false, "zero": false}, "axis": null},
               "text": {"field": "label"}
             }}
          ]
        }
      ]
    }
  ]
}
